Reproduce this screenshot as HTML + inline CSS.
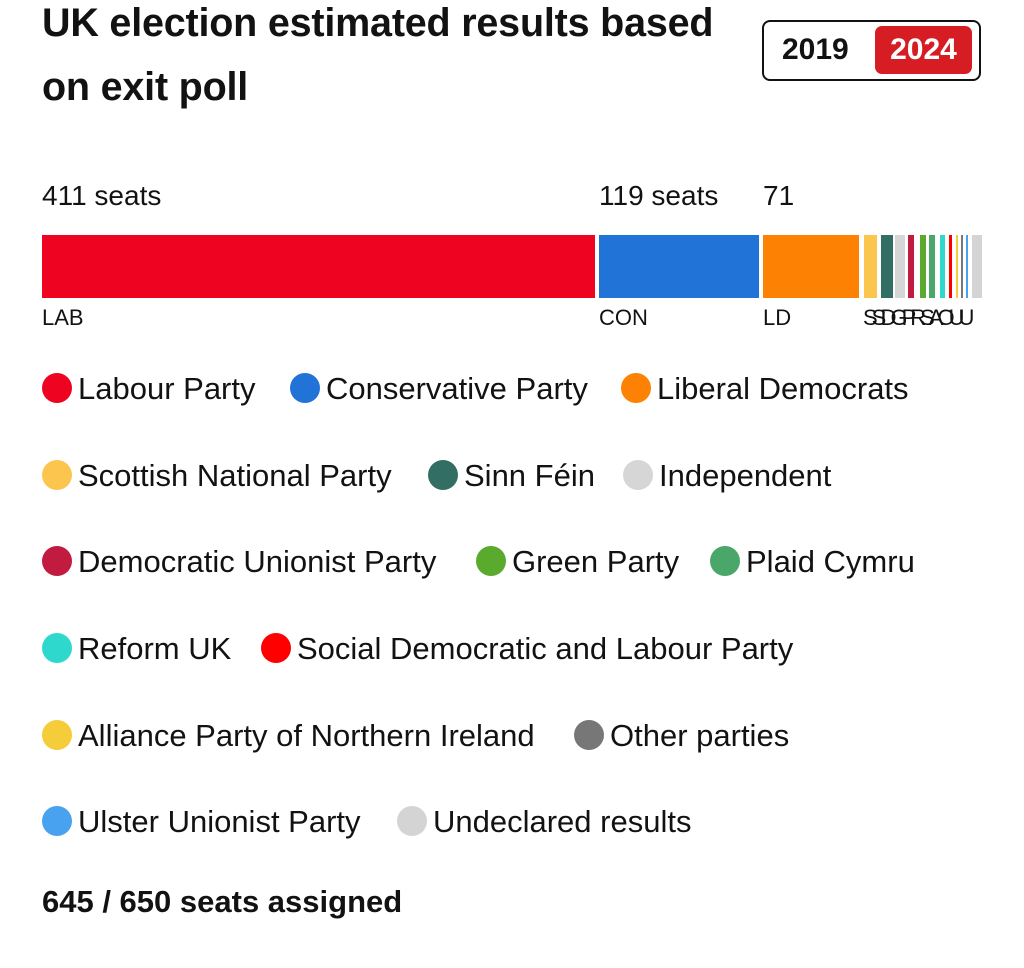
<!DOCTYPE html>
<html><head><meta charset="utf-8"><style>
body{margin:0;width:1024px;height:968px;background:#fff;font-family:"Liberation Sans",sans-serif;color:#121212;position:relative;overflow:hidden}
.a{position:absolute;white-space:nowrap}
h1{position:absolute;left:42px;top:-9px;margin:0;font-size:39.5px;line-height:64px;font-weight:bold;letter-spacing:-0.2px;width:760px}
.b{position:absolute;top:235px;height:63px}
.l{position:absolute;font-size:31px;line-height:34px;white-space:nowrap}
.d{display:inline-block;width:30px;height:30px;border-radius:50%;vertical-align:-4px;margin-right:6px}
</style></head><body>
<h1>UK election estimated results based<br>on exit poll</h1>
<div class="a" style="left:762px;top:20px;width:215px;height:57px;border:2px solid #121212;border-radius:8px"></div>
<div class="a" style="left:782px;top:30px;font-size:30px;font-weight:bold;line-height:40px">2019</div>
<div class="a" style="left:875px;top:26px;width:97px;height:48px;background:#d61d24;border-radius:7px;color:#fff;font-size:30px;font-weight:bold;line-height:48px;text-align:center">2024</div>
<div class="a" style="left:42px;top:180px;font-size:28px">411 seats</div>
<div class="a" style="left:599px;top:180px;font-size:28px">119 seats</div>
<div class="a" style="left:763px;top:180px;font-size:28px">71</div>
<div class="b" style="left:42px;width:553px;background:#ee0320"></div>
<div class="b" style="left:599px;width:160px;background:#2273d8"></div>
<div class="b" style="left:763px;width:96px;background:#fd8204"></div>
<div class="b" style="left:864px;width:13px;background:#fcc64e"></div>
<div class="b" style="left:881px;width:12px;background:#326e63"></div>
<div class="b" style="left:895px;width:10px;background:#d6d6d6"></div>
<div class="b" style="left:908px;width:6px;background:#c11b3f"></div>
<div class="b" style="left:920px;width:6px;background:#5aaa2e"></div>
<div class="b" style="left:929px;width:6px;background:#4ba66a"></div>
<div class="b" style="left:940px;width:5px;background:#2ed8cc"></div>
<div class="b" style="left:949px;width:3px;background:#f00"></div>
<div class="b" style="left:956px;width:2px;background:#f5cc3a"></div>
<div class="b" style="left:961px;width:2px;background:#777"></div>
<div class="b" style="left:966px;width:2px;background:#49a2ef"></div>
<div class="b" style="left:972px;width:10px;background:#d4d4d4"></div>
<div class="a" style="left:42px;top:305px;font-size:22px">LAB</div>
<div class="a" style="left:599px;top:305px;font-size:22px">CON</div>
<div class="a" style="left:763px;top:305px;font-size:22px">LD</div>
<div class="a" style="left:863px;top:305px;font-size:22px;letter-spacing:-6px;width:120px;overflow:hidden">SSIIDGPRSAOUU</div>

<div class="l" style="left:42px;top:372px"><span class="d" style="background:#ee0320"></span>Labour Party</div>
<div class="l" style="left:290px;top:372px"><span class="d" style="background:#2273d8"></span>Conservative Party</div>
<div class="l" style="left:621px;top:372px"><span class="d" style="background:#fd8204"></span>Liberal Democrats</div>

<div class="l" style="left:42px;top:459px"><span class="d" style="background:#fcc64e"></span>Scottish National Party</div>
<div class="l" style="left:428px;top:459px"><span class="d" style="background:#326e63"></span>Sinn Féin</div>
<div class="l" style="left:623px;top:459px"><span class="d" style="background:#d6d6d6"></span>Independent</div>

<div class="l" style="left:42px;top:545px"><span class="d" style="background:#c11b3f"></span>Democratic Unionist Party</div>
<div class="l" style="left:476px;top:545px"><span class="d" style="background:#5aaa2e"></span>Green Party</div>
<div class="l" style="left:710px;top:545px"><span class="d" style="background:#4ba66a"></span>Plaid Cymru</div>

<div class="l" style="left:42px;top:632px"><span class="d" style="background:#2ed8cc"></span>Reform UK</div>
<div class="l" style="left:261px;top:632px"><span class="d" style="background:#f00"></span>Social Democratic and Labour Party</div>

<div class="l" style="left:42px;top:719px"><span class="d" style="background:#f5cc3a"></span>Alliance Party of Northern Ireland</div>
<div class="l" style="left:574px;top:719px"><span class="d" style="background:#777"></span>Other parties</div>

<div class="l" style="left:42px;top:805px"><span class="d" style="background:#49a2ef"></span>Ulster Unionist Party</div>
<div class="l" style="left:397px;top:805px"><span class="d" style="background:#d4d4d4"></span>Undeclared results</div>

<div class="a" style="left:42px;top:884px;font-size:31px;font-weight:bold">645 / 650 seats assigned</div>
</body></html>
